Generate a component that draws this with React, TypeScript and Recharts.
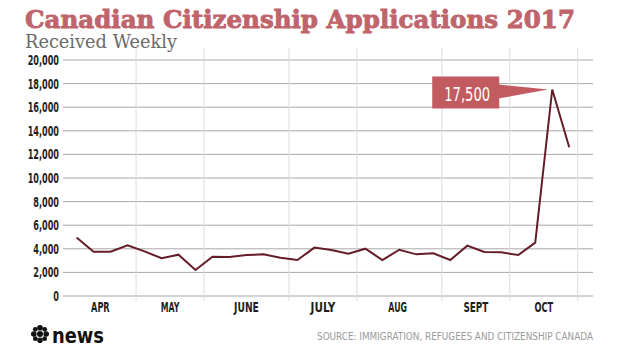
import React from "react";
import {
  LineChart,
  Line,
  XAxis,
  YAxis,
  CartesianGrid,
  ReferenceLine,
  ReferenceDot,
} from "recharts";

// weekly applications received, April -> October 2017
const weeks = [
  0, 1, 2, 3, 4, 5, 6, 7, 8, 9, 10, 11, 12, 13, 14, 15, 16, 17, 18, 19, 20, 21,
  22, 23, 24, 25, 26, 27, 28, 29,
];
const applications = [
  4950, 3750, 3750, 4300, 3780, 3200, 3500, 2200, 3330, 3300, 3470, 3530, 3240,
  3050, 4100, 3900, 3580, 4010, 3050, 3920, 3530, 3620, 3050, 4270, 3730, 3700,
  3470, 4520, 17500, 12600,
];

const months = ["APR", "MAY", "JUNE", "JULY", "AUG", "SEPT", "OCT"];
const monthCenters = [1.4, 5.5, 10, 14.5, 18.9, 23.5, 27.5];
const monthEdges = [3.5, 7.5, 12.5, 16.5, 21.5, 25.5, 29.5];
const yTicks = [0, 2000, 4000, 6000, 8000, 10000, 12000, 14000, 16000, 18000, 20000];

const peakWeek = 28;
const peakValue = 17500;

const data = weeks.map((w, i) => ({ week: w, value: applications[i] }));

const COND = "'DejaVu Sans Condensed', 'DejaVu Sans', sans-serif";

// the original uses a narrow display face; squeeze the text to its width
function condensedWidth(s: string, digit: number) {
  let w = 0;
  for (const ch of s) w += ch === "," ? digit * 0.5 : digit;
  return w;
}

function YTick(props: any) {
  const { x, y, payload } = props;
  const label = Number(payload.value).toLocaleString("en-US");
  return (
    <text
      x={x}
      y={y}
      dy={5}
      textAnchor="end"
      fontSize={14}
      fontWeight={700}
      fill="#1e1e1e"
      fontFamily={COND}
      textLength={condensedWidth(label, 5.7)}
      lengthAdjust="spacingAndGlyphs"
    >
      {label}
    </text>
  );
}

function XTick(props: any) {
  const { x, y, payload } = props;
  const label = months[monthCenters.indexOf(payload.value)] ?? "";
  return (
    <text
      x={x}
      y={y}
      dy={10}
      textAnchor="middle"
      fontSize={14}
      fontWeight={700}
      fill="#1e1e1e"
      fontFamily={COND}
      textLength={label.length * 6.2}
      lengthAdjust="spacingAndGlyphs"
    >
      {label}
    </text>
  );
}

function Callout(props: any) {
  const { cx, cy } = props;
  if (cx == null || cy == null) return null;
  const rx = cx - 120;
  const ry = cy - 13;
  return (
    <g>
      <polygon
        points={`${cx - 54},${cy - 5} ${cx - 4},${cy} ${cx - 54},${cy + 9}`}
        fill="#c25b60"
      />
      <rect x={rx} y={ry} width={67} height={32} fill="#c25b60" />
      <text
        x={rx + 12}
        y={ry + 24}
        fill="#fff"
        fontSize={20}
        fontFamily={COND}
        textLength={46}
        lengthAdjust="spacingAndGlyphs"
      >
        {peakValue.toLocaleString("en-US")}
      </text>
    </g>
  );
}

function CbcGem() {
  const c = { x: 40, y: 334 };
  const dirs = [0, 45, 90, 135, 180, 225, 270, 315];
  return (
    <g fill="#111">
      <circle cx={c.x} cy={c.y} r={3} />
      {dirs.map((d) => {
        const a = (d * Math.PI) / 180;
        const r = d % 90 === 0 ? 6.2 : 6.6;
        return (
          <circle
            key={d}
            cx={c.x + Math.cos(a) * r}
            cy={c.y + Math.sin(a) * r}
            r={d % 90 === 0 ? 2.8 : 2.4}
          />
        );
      })}
    </g>
  );
}

export default function App() {
  return (
    <div
      style={{
        position: "absolute",
        left: 0,
        top: 0,
        width: 624,
        height: 351,
        background: "#fff",
        overflow: "hidden",
      }}
    >
      <LineChart
        width={624}
        height={351}
        data={data}
        margin={{ top: 60, right: 31, bottom: 0, left: 0 }}
      >
        <CartesianGrid vertical={false} stroke="#a8a8a8" strokeWidth={1} />
        {monthEdges.map((x) => (
          <ReferenceLine
            key={x}
            segment={[
              { x, y: -400 },
              { x, y: 21000 },
            ]}
            ifOverflow="visible"
            stroke="#dcdcdc"
            strokeWidth={1}
          />
        ))}
        <XAxis
          dataKey="week"
          type="number"
          domain={[-0.8, 30.4]}
          ticks={monthCenters}
          axisLine={false}
          tickLine={false}
          tickSize={0}
          tickMargin={6}
          height={55}
          interval={0}
          tick={<XTick />}
        />
        <YAxis
          domain={[0, 20000]}
          ticks={yTicks}
          width={63}
          axisLine={false}
          tickLine={false}
          tickSize={0}
          tickMargin={4}
          interval={0}
          tick={<YTick />}
        />
        <Line
          dataKey="value"
          type="linear"
          stroke="#641c28"
          strokeWidth={2}
          dot={false}
          isAnimationActive={false}
        />
        <ReferenceDot
          x={peakWeek}
          y={peakValue}
          ifOverflow="visible"
          shape={<Callout />}
        />
      </LineChart>

      <svg
        width={624}
        height={351}
        style={{ position: "absolute", left: 0, top: 0, pointerEvents: "none" }}
      >
        <text
          x={25}
          y={27.5}
          fill="#c0646c"
          stroke="#c0646c"
          strokeWidth={0.9}
          fontSize={25}
          fontWeight={700}
          fontFamily="'DejaVu Serif', serif"
          textLength={550}
          lengthAdjust="spacingAndGlyphs"
        >
          Canadian Citizenship Applications 2017
        </text>
        <text
          x={25}
          y={47.5}
          fill="#6a6a6a"
          fontSize={18}
          fontFamily="'DejaVu Serif', serif"
          textLength={152}
          lengthAdjust="spacingAndGlyphs"
        >
          Received Weekly
        </text>
        <CbcGem />
        <text
          x={52}
          y={343}
          fill="#111"
          fontSize={22}
          fontWeight={700}
          fontFamily="'DejaVu Sans', sans-serif"
          textLength={52}
          lengthAdjust="spacingAndGlyphs"
        >
          news
        </text>
        <text
          x={317}
          y={340}
          fill="#9a9a9a"
          fontSize={11}
          fontFamily={COND}
          textLength={276}
          lengthAdjust="spacingAndGlyphs"
        >
          SOURCE: IMMIGRATION, REFUGEES AND CITIZENSHIP CANADA
        </text>
      </svg>
    </div>
  );
}
